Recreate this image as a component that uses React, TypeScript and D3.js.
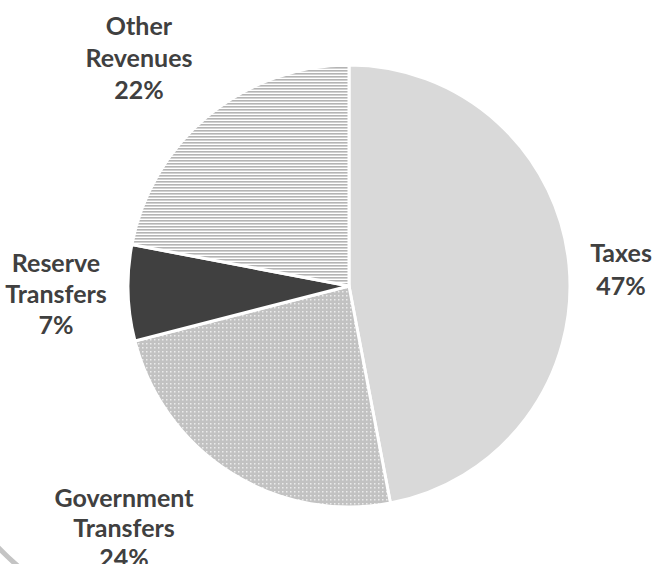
import React from "react";
import * as d3 from "d3";

const categories = ["Taxes", "Government Transfers", "Reserve Transfers", "Other Revenues"];
const values = [47, 24, 7, 22];
const labelLines = [["Taxes"], ["Government", "Transfers"], ["Reserve", "Transfers"], ["Other", "Revenues"]];

// layout (not data)
const W = 655;
const H = 564;
const CX = 349;
const CY = 286;
const R = 221;
const fills = ["#d9d9d9", "url(#dots)", "#404040", "url(#hlines)"];
const labelPos = [
  { x: 621, y: 262, dy: 32.5 },
  { x: 124, y: 507, dy: 30 },
  { x: 56, y: 271.5, dy: 31 },
  { x: 139, y: 34.5, dy: 32 },
];

export default function App() {
  const pie = d3.pie<number>().sort(null).value((d) => d);
  const arcs = pie(values);
  const arcGen = d3.arc<d3.PieArcDatum<number>>().innerRadius(0).outerRadius(R);
  const total = d3.sum(values);
  const fmt = (v: number) => `${Math.round((v / total) * 100)}%`;

  return (
    <svg
      width={W}
      height={H}
      viewBox={`0 0 ${W} ${H}`}
      style={{ position: "absolute", left: 0, top: 0, background: "#fff" }}
    >
      <defs>
        <pattern id="hlines" width="4" height="3" patternUnits="userSpaceOnUse">
          <rect width="4" height="3" fill="#ffffff" />
          <rect width="4" height="1.6" fill="#b4b4b4" />
        </pattern>
        <pattern id="dots" width="4" height="4" patternUnits="userSpaceOnUse">
          <rect width="4" height="4" fill="#c2c2c2" />
          <rect x="1" y="1" width="1.5" height="1.5" fill="#ececec" />
        </pattern>
      </defs>
      <rect width={W} height={H} fill="#fff" />
      <path
        d="M -6 543 Q 6 556 19 567"
        fill="none"
        stroke="#c4c4c4"
        strokeWidth={5}
      />
      <g transform={`translate(${CX},${CY})`}>
        {arcs.map((a, i) => (
          <path
            key={categories[i]}
            d={arcGen(a) || ""}
            fill={fills[i]}
            stroke="#ffffff"
            strokeWidth={3}
            strokeLinejoin="miter"
          />
        ))}
      </g>
      {labelLines.map((lines, i) => {
        const p = labelPos[i];
        const all = [...lines, fmt(values[i])];
        return (
          <text
            key={categories[i]}
            textAnchor="middle"
            fontFamily="Lato, 'Open Sans', sans-serif"
            fontWeight={700}
            fontSize={25}
            fill="#404040"
          >
            {all.map((t, j) => (
              <tspan key={j} x={p.x} y={p.y + j * p.dy}>
                {t}
              </tspan>
            ))}
          </text>
        );
      })}
    </svg>
  );
}
